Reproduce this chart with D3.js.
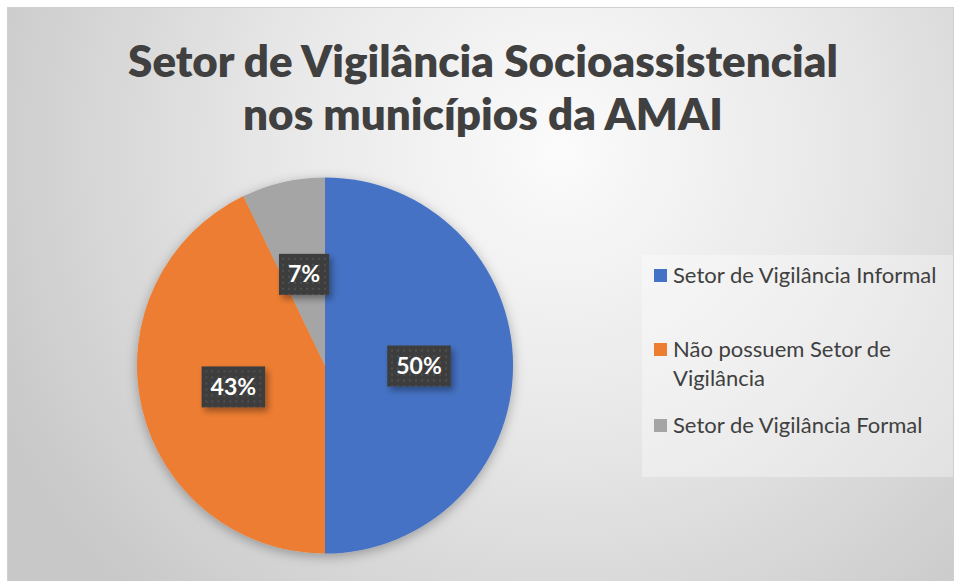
<!DOCTYPE html>
<html>
<head>
<meta charset="utf-8">
<script src="https://cdn.jsdelivr.net/npm/d3@7"></script>
<style>
  html, body { margin: 0; padding: 0; background: #fff; }
  svg { display: block; }
</style>
</head>
<body>
<script>
// dados
const categories = ["Setor de Vigilância Informal", "Não possuem Setor de Vigilância", "Setor de Vigilância Formal"];
const legendLines = [["Setor de Vigilância Informal"], ["Não possuem Setor de", "Vigilância"], ["Setor de Vigilância Formal"]];
const values = [7, 6, 1]; // municípios
const colors = ["#4472c4", "#ed7d31", "#a5a5a5"];
const titleLines = ["Setor de Vigilância Socioassistencial", "nos municípios da AMAI"];

const width = 958, height = 581;
const font = "Lato, 'Open Sans', sans-serif";

const svg = d3.select("body").append("svg")
    .attr("width", width)
    .attr("height", height);

const defs = svg.append("defs");

// fundo com gradiente radial
const grad = defs.append("radialGradient")
    .attr("id", "bg")
    .attr("gradientUnits", "userSpaceOnUse")
    .attr("cx", 560).attr("cy", 150).attr("r", 620);
grad.append("stop").attr("offset", "0%").attr("stop-color", "#fbfbfb");
grad.append("stop").attr("offset", "45%").attr("stop-color", "#e8e8e8");
grad.append("stop").attr("offset", "100%").attr("stop-color", "#c8c8c8");

// sombra
const shadow = defs.append("filter").attr("id", "shadow")
    .attr("x", "-20%").attr("y", "-20%").attr("width", "140%").attr("height", "140%");
shadow.append("feDropShadow")
    .attr("dx", 0).attr("dy", 3).attr("stdDeviation", 6)
    .attr("flood-color", "#000").attr("flood-opacity", 0.3);

const lblShadow = defs.append("filter").attr("id", "lblshadow")
    .attr("x", "-30%").attr("y", "-30%").attr("width", "160%").attr("height", "170%");
lblShadow.append("feDropShadow")
    .attr("dx", 3).attr("dy", 4).attr("stdDeviation", 3)
    .attr("flood-color", "#000").attr("flood-opacity", 0.35);

// padrão pontilhado dos rótulos
const pat = defs.append("pattern").attr("id", "dots")
    .attr("patternUnits", "userSpaceOnUse")
    .attr("width", 6).attr("height", 6);
pat.append("rect").attr("width", 6).attr("height", 6).attr("fill", "#3d3d3d");
pat.append("rect").attr("x", 2).attr("y", 2).attr("width", 2).attr("height", 2).attr("fill", "#4f4f4f");

svg.append("rect")
    .attr("x", 7.5).attr("y", 7.5)
    .attr("width", 946).attr("height", 580)
    .attr("fill", "url(#bg)")
    .attr("stroke", "#d0d0d0");

// ajusta o tamanho da fonte para a largura desejada
function fitFont(txt, base, target) {
    const w = txt.node().getComputedTextLength();
    txt.style("font-size", (base * target / w) + "px");
}

// título
const titleWidths = [710, 480];
titleLines.forEach((t, i) => {
    const txt = svg.append("text")
        .attr("x", 483)
        .attr("y", 77 + i * 53)
        .attr("text-anchor", "middle")
        .style("font", `800 43px ${font}`)
        .style("fill", "#404040")
        .text(t);
    fitFont(txt, 43, titleWidths[i]);
});

// pizza
const cx = 325, cy = 365.5, r = 188;
const pie = d3.pie().sort(null).value(d => d)(values);
const arc = d3.arc().innerRadius(0).outerRadius(r);
const total = d3.sum(values);

const g = svg.append("g").attr("transform", `translate(${cx},${cy})`);

g.append("g").attr("filter", "url(#shadow)")
    .selectAll("path")
    .data(pie)
    .join("path")
    .attr("d", arc)
    .attr("fill", (d, i) => colors[i]);

// rótulos
const labels = g.selectAll(".label")
    .data(pie)
    .join("g")
    .attr("class", "label")
    .attr("transform", d => `translate(${arc.centroid(d)})`);

labels.each(function (d) {
    const sel = d3.select(this);
    const txt = d3.format(".0%")(d.value / total);
    const t = sel.append("text")
        .attr("text-anchor", "middle")
        .attr("dy", "0.36em")
        .style("font", `bold 23px ${font}`)
        .style("fill", "#fff")
        .text(txt);
    const w = t.node().getComputedTextLength();
    const bw = w + 18;
    sel.insert("rect", "text")
        .attr("x", -bw / 2).attr("y", -20)
        .attr("width", bw).attr("height", 41)
        .attr("fill", "url(#dots)")
        .attr("filter", "url(#lblshadow)");
});

// legenda
svg.append("rect")
    .attr("x", 642).attr("y", 255)
    .attr("width", 311).attr("height", 222)
    .attr("fill", "#fff").attr("fill-opacity", 0.35);

const legendY = [276, 350, 426];
const legend = svg.selectAll(".legend")
    .data(categories)
    .join("g")
    .attr("class", "legend")
    .attr("transform", (d, i) => `translate(654,${legendY[i]})`);

legend.append("rect")
    .attr("x", 0).attr("y", -7)
    .attr("width", 13).attr("height", 13)
    .attr("fill", (d, i) => colors[i]);

legend.append("text")
    .attr("x", 19)
    .attr("y", 7)
    .style("font", `22px ${font}`)
    .style("fill", "#404040")
    .selectAll("tspan")
    .data((d, i) => legendLines[i])
    .join("tspan")
    .attr("x", 19)
    .attr("dy", (d, j) => j === 0 ? 0 : 29)
    .text(d => d);
</script>
</body>
</html>
